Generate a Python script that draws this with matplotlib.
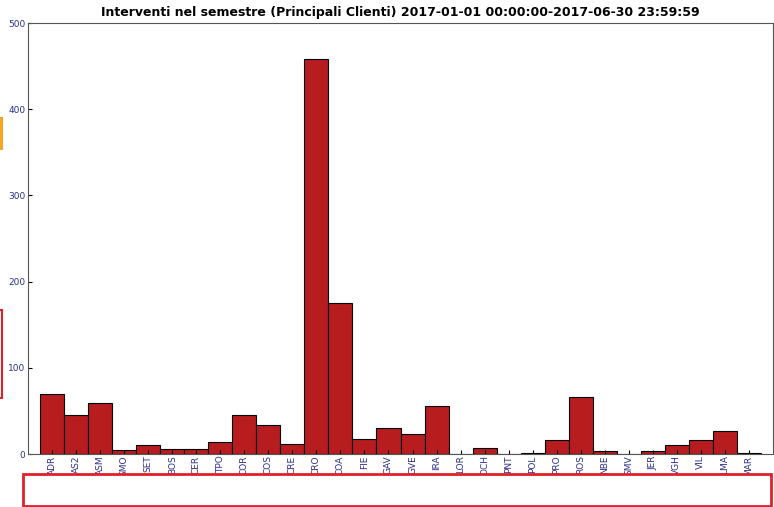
import matplotlib
matplotlib.use("Agg")
import matplotlib.pyplot as plt
from matplotlib.patches import Rectangle

clienti = ["ADR", "AS2", "ASM", "SMO", "SET", "BOS", "CER", "TPO", "COR", "COS",
           "CRE", "CRO", "COA", "FIE", "GAV", "GVE", "IRA", "LOR", "OCH", "PNT",
           "POL", "PRO", "ROS", "NBE", "SMV", "JER", "VGH", "VIL", "LMA", "MAR"]
interventi = [70, 45, 59, 5, 10, 6, 6, 14, 45, 34,
              12, 458, 175, 17, 30, 23, 56, 0, 7, 0,
              1, 16, 66, 3, 0, 3, 10, 16, 27, 1]

fig = plt.figure(figsize=(7.74, 5.07), dpi=100)
ax = fig.add_axes([0.0362, 0.1045, 0.9625, 0.8501])

x = range(len(clienti))
ax.bar(x, interventi, width=1.0, color="#b71c1f", edgecolor="black", linewidth=0.8)

ax.set_xlim(-1, 30)
ax.set_ylim(0, 500)
ax.set_yticks([0, 100, 200, 300, 400, 500])
ax.set_xticks(list(x))
ax.set_xticklabels(clienti, rotation=90)
ax.tick_params(axis="both", direction="in", length=3, labelsize=6.5,
               labelcolor="#2e2e8a", pad=2)
ax.tick_params(axis="x", pad=1)
for s in ax.spines.values():
    s.set_color("#555555")
    s.set_linewidth(0.8)

ax.set_title("Interventi nel semestre (Principali Clienti) 2017-01-01 00:00:00-2017-06-30 23:59:59",
             fontsize=9, fontweight="bold", pad=5)

# overlay boxes present in the screenshot
W, H = 774, 507
fig.patches.append(Rectangle((23 / W, 1 / H), 748 / W, 32 / H, transform=fig.transFigure,
                             facecolor="white", edgecolor="#e0202a", linewidth=2, zorder=10))
fig.patches.append(Rectangle((0, 357 / H), 3 / W, 33 / H, transform=fig.transFigure,
                             facecolor="#f5a623", edgecolor="none", zorder=10))
fig.patches.append(Rectangle((-5 / W, 109 / H), 7 / W, 88 / H, transform=fig.transFigure,
                             facecolor="none", edgecolor="#e0202a", linewidth=1.5, zorder=10))

fig.savefig("out.png", dpi=100)
